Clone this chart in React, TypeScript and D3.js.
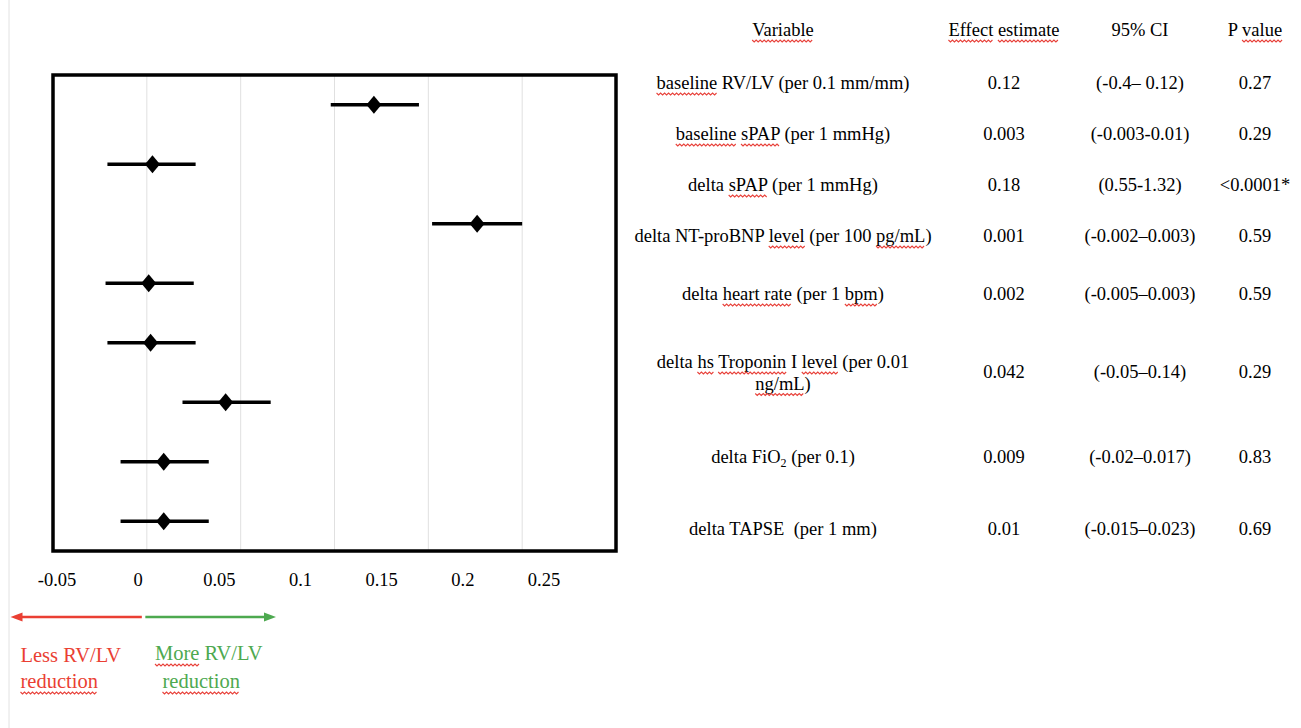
import React, { useEffect, useRef } from 'react'
import * as d3 from 'd3'

const width = 1301
const height = 728
const font = "'Liberation Serif', 'Times New Roman', serif"
const squiggleColor = '#e8413a'

// forest plot rows
const variables = [
  'baseline RV/LV (per 0.1 mm/mm)',
  'baseline sPAP (per 1 mmHg)',
  'delta sPAP (per 1 mmHg)',
  'delta NT-proBNP level (per 100 pg/mL)',
  'delta heart rate (per 1 bpm)',
  'delta hs Troponin I level (per 0.01\nng/mL)',
  'delta FiO_2 (per 0.1)',
  'delta TAPSE  (per 1 mm)',
]
const estimates = [0.121, 0.003, 0.176, 0.001, 0.002, 0.042, 0.009, 0.009]
const lower = [0.098, -0.021, 0.152, -0.022, -0.021, 0.019, -0.014, -0.014]
const upper = [0.145, 0.026, 0.2, 0.025, 0.026, 0.066, 0.033, 0.033]

// table columns
const headers = ['Variable', 'Effect estimate', '95% CI', 'P value']
const estText = ['0.12', '0.003', '0.18', '0.001', '0.002', '0.042', '0.009', '0.01']
const ciText = ['(-0.4– 0.12)', '(-0.003-0.01)', '(0.55-1.32)', '(-0.002–0.003)', '(-0.005–0.003)', '(-0.05–0.14)', '(-0.02–0.017)', '(-0.015–0.023)']
const pText = ['0.27', '0.29', '<0.0001*', '0.59', '0.59', '0.29', '0.83', '0.69']

// axis
const xDomain = [-0.05, 0.25]
const gridTicks = [0, 0.05, 0.1, 0.15, 0.2]
const tickValues = [-0.05, 0, 0.05, 0.1, 0.15, 0.2, 0.25]
const tickLabels = ['-0.05', '0', '0.05', '0.1', '0.15', '0.2', '0.25']

// words flagged by the spell checker (red wavy underline)
const headerFlags = [['Variable'], ['Effect', 'estimate'], [], ['value']]
const rowFlags = [
  ['baseline'],
  ['baseline', 'sPAP'],
  ['sPAP'],
  ['level', 'pg/mL'],
  ['heart rate', 'bpm'],
  ['hs', 'Troponin', 'level', 'ng/mL'],
  [],
  [],
]

const box = { left: 53, right: 616, top: 75, bottom: 551 }
const colX = [783, 1004, 1140, 1255]
const headerY = 36
const rowY = [89, 140, 191, 242, 300, 368, 463, 535]

const wave = (g, x0, x1, y) => {
  const pts = d3.range(x0, x1 + 0.1, 2).map((px, i) => [px, y + (i % 2 ? 2 : 0)])
  g.append('path')
    .attr('d', d3.line()(pts))
    .attr('fill', 'none')
    .attr('stroke', squiggleColor)
    .attr('stroke-width', 1.1)
}

const flagWords = (g, textSel, str, words, baseline) => {
  const node = textSel.node()
  words.forEach(w => {
    const i = str.indexOf(w)
    if (i < 0) return
    const a = node.getExtentOfChar(i)
    const b = node.getExtentOfChar(i + w.length - 1)
    wave(g, a.x, b.x + b.width, baseline + 4)
  })
}

export default function App() {
  const node = useRef(null)

  useEffect(() => {
    const svg = d3.select(node.current)
    svg.selectAll('*').remove()

    const x = d3.scaleLinear().domain(xDomain).range([box.left, box.right])
    const y = d3.scaleBand().domain(d3.range(variables.length)).range([box.top, box.bottom])
    // the tick labels were typed in separate boxes, a bit off the grid
    const xLabel = d3.scaleLinear().domain(xDomain).range([57, 544])

    // faint page edge on the left
    svg.append('line')
      .attr('x1', 9).attr('x2', 9).attr('y1', 0).attr('y2', height)
      .attr('stroke', '#e2e2e2')

    // gridlines
    svg.append('g')
      .selectAll('line')
      .data(gridTicks)
      .join('line')
        .attr('x1', d => x(d)).attr('x2', d => x(d))
        .attr('y1', box.top).attr('y2', box.bottom)
        .attr('stroke', '#e0e0e0')
        .attr('stroke-width', 1)

    // confidence intervals
    const rows = svg.append('g')
      .selectAll('g')
      .data(d3.range(variables.length))
      .join('g')
        .attr('transform', i => `translate(0,${y(i) + y.bandwidth() / 2})`)

    rows.append('line')
      .attr('x1', i => x(lower[i]))
      .attr('x2', i => x(upper[i]))
      .attr('stroke', '#000')
      .attr('stroke-width', 3.3)

    rows.append('path')
      .attr('d', i => `M${x(estimates[i])},-9L${x(estimates[i]) + 7.5},0L${x(estimates[i])},9L${x(estimates[i]) - 7.5},0Z`)
      .attr('fill', '#000')

    // frame
    svg.append('rect')
      .attr('x', box.left).attr('y', box.top)
      .attr('width', box.right - box.left)
      .attr('height', box.bottom - box.top)
      .attr('fill', 'none')
      .attr('stroke', '#000')
      .attr('stroke-width', 3.5)

    // tick labels
    svg.append('g')
      .selectAll('text')
      .data(tickValues)
      .join('text')
        .attr('x', d => xLabel(d))
        .attr('y', 586)
        .attr('text-anchor', 'middle')
        .attr('font-family', font)
        .attr('font-size', 18.5)
        .attr('fill', '#000')
        .text((d, i) => tickLabels[i])

    // direction arrows
    const arrow = (from, to, color) => {
      const dir = Math.sign(to - from)
      svg.append('line')
        .attr('x1', from).attr('x2', to - dir * 9)
        .attr('y1', 617).attr('y2', 617)
        .attr('stroke', color).attr('stroke-width', 2.5)
      svg.append('path')
        .attr('d', `M${to},617L${to - dir * 12},612.5L${to - dir * 12},621.5Z`)
        .attr('fill', color)
    }
    arrow(x(0) - 5, 10.5, '#ea3f33')
    arrow(x(0) - 1.5, 276, '#4da94f')

    const sideText = (str, tx, ty, color) => svg.append('text')
      .attr('x', tx).attr('y', ty)
      .attr('font-family', font)
      .attr('font-size', 20.5)
      .attr('fill', color)
      .text(str)

    sideText('Less RV/LV', 20.5, 662, '#ea3f33')
    const lr = sideText('reduction', 20.5, 688, '#ea3f33')
    flagWords(svg, lr, 'reduction', ['reduction'], 688)
    const mr = sideText('More RV/LV', 155, 660, '#4da94f')
    flagWords(svg, mr, 'More RV/LV', ['More'], 660)
    const gr = sideText('reduction', 162.5, 688, '#4da94f')
    flagWords(svg, gr, 'reduction', ['reduction'], 688)

    // table
    const cell = (str, cx, cy) => {
      const t = svg.append('text')
        .attr('x', cx).attr('y', cy)
        .attr('text-anchor', 'middle')
        .attr('font-family', font)
        .attr('font-size', 18.5)
        .attr('fill', '#000')
        .style('white-space', 'pre')
      const parts = str.split('_')
      if (parts.length > 1) {
        t.append('tspan').text(parts[0])
        t.append('tspan').attr('font-size', 12).attr('dy', 4).text(parts[1][0])
        t.append('tspan').attr('dy', -4).text(parts[1].slice(1))
      } else {
        t.text(str)
      }
      return t
    }

    headers.forEach((h, j) => {
      const t = cell(h, colX[j], headerY)
      flagWords(svg, t, h, headerFlags[j], headerY)
    })

    variables.forEach((v, i) => {
      const lines = v.split('\n')
      lines.forEach((line, k) => {
        const ly = rowY[i] + k * 21.5
        const t = cell(line, colX[0], ly)
        flagWords(svg, t, line, rowFlags[i].filter(w => line.includes(w)), ly)
      })
      const my = lines.length > 1 ? rowY[i] + 10 : rowY[i]
      cell(estText[i], colX[1], my)
      cell(ciText[i], colX[2], my)
      cell(pText[i], colX[3], my)
    })
  }, [])

  return (
    <svg
      ref={node}
      width={width}
      height={height}
      style={{ position: 'absolute', left: 0, top: 0, background: '#fff' }}
    />
  )
}
